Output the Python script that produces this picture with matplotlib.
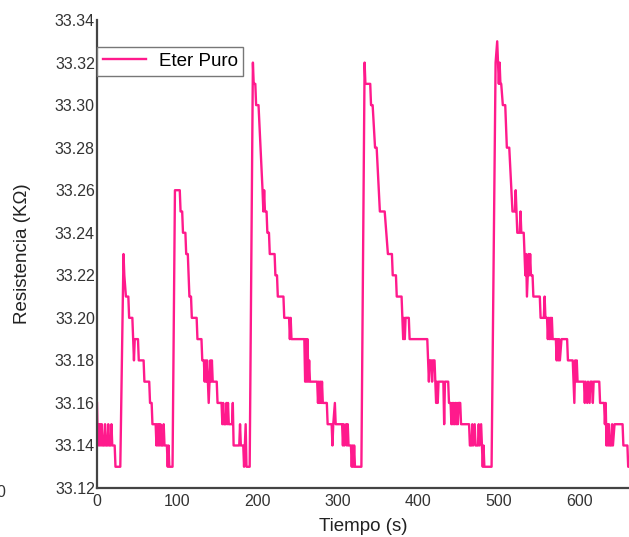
import matplotlib
matplotlib.use('Agg')
import matplotlib.pyplot as plt

plt.rcParams['font.family'] = ['Liberation Sans', 'DejaVu Sans']

# (tiempo s, resistencia kOhm), one list per exposure
ciclo1 = [(0, 33.16), (1, 33.14), (2, 33.15), (3, 33.14), (4, 33.15), (5, 33.14), (6, 33.15),
          (7, 33.14), (9, 33.14), (10, 33.15), (11, 33.14), (13, 33.14), (14, 33.15), (15, 33.14),
          (17, 33.14), (18, 33.15), (19, 33.14), (22, 33.14), (23, 33.13), (29, 33.13),
          (33, 33.23), (34, 33.22), (36, 33.21), (39, 33.21), (40, 33.20), (44, 33.20),
          (45, 33.19), (46, 33.18), (47, 33.19), (51, 33.19), (52, 33.18), (58, 33.18),
          (59, 33.17), (65, 33.17), (66, 33.16), (68, 33.16), (69, 33.15), (73, 33.15),
          (74, 33.14), (75, 33.15), (76, 33.14), (77, 33.15), (78, 33.14), (79, 33.15),
          (80, 33.14), (82, 33.14), (83, 33.15), (84, 33.14), (87, 33.14), (88, 33.13),
          (89, 33.14), (90, 33.13), (94, 33.13)]

ciclo2 = [(97, 33.26), (103, 33.26), (104, 33.25), (106, 33.25), (107, 33.24), (110, 33.24),
          (111, 33.23), (113, 33.23), (115, 33.21), (117, 33.21), (118, 33.20), (124, 33.20),
          (125, 33.19), (130, 33.19), (131, 33.18), (133, 33.18), (134, 33.17), (135, 33.18),
          (136, 33.17), (137, 33.18), (138, 33.17), (139, 33.16), (140, 33.17), (141, 33.18),
          (142, 33.17), (143, 33.18), (144, 33.17), (149, 33.17), (150, 33.16), (155, 33.16),
          (156, 33.15), (157, 33.16), (158, 33.15), (160, 33.15), (161, 33.16), (162, 33.15),
          (163, 33.16), (164, 33.15), (168, 33.15), (169, 33.16), (170, 33.14), (177, 33.14),
          (178, 33.15), (179, 33.14), (182, 33.14), (183, 33.13), (185, 33.15), (186, 33.13),
          (190, 33.13)]

ciclo3 = [(194, 33.32), (195, 33.31), (197, 33.31), (198, 33.30), (201, 33.30), (206, 33.26),
          (207, 33.25), (208, 33.26), (209, 33.25), (211, 33.25), (212, 33.24), (214, 33.24),
          (215, 33.23), (221, 33.23), (222, 33.22), (224, 33.22), (225, 33.21), (232, 33.21),
          (233, 33.20), (239, 33.20), (240, 33.19), (241, 33.20), (242, 33.19), (258, 33.19),
          (259, 33.17), (260, 33.19), (261, 33.17), (262, 33.19), (263, 33.17), (264, 33.18),
          (265, 33.17), (274, 33.17), (275, 33.16), (276, 33.17), (277, 33.16), (278, 33.17),
          (279, 33.16), (280, 33.17), (281, 33.16), (286, 33.16), (287, 33.15), (292, 33.15),
          (293, 33.14), (294, 33.15), (296, 33.16), (297, 33.15), (305, 33.15), (306, 33.14),
          (307, 33.15), (308, 33.14), (310, 33.15), (311, 33.14), (312, 33.15), (313, 33.14),
          (316, 33.14), (317, 33.13), (318, 33.14), (319, 33.13), (320, 33.14), (321, 33.13),
          (329, 33.13)]

ciclo4 = [(333, 33.32), (334, 33.31), (340, 33.31), (341, 33.30), (343, 33.30), (346, 33.28),
          (348, 33.28), (352, 33.25), (358, 33.25), (360, 33.24), (362, 33.23), (367, 33.23),
          (368, 33.22), (372, 33.22), (373, 33.21), (379, 33.21), (380, 33.20), (381, 33.19),
          (382, 33.20), (383, 33.19), (384, 33.20), (388, 33.20), (389, 33.19), (411, 33.19),
          (412, 33.18), (413, 33.17), (414, 33.18), (416, 33.18), (417, 33.17), (418, 33.18),
          (420, 33.18), (421, 33.17), (422, 33.16), (423, 33.17), (424, 33.16), (425, 33.17),
          (431, 33.17), (432, 33.15), (433, 33.17), (437, 33.17), (438, 33.16), (440, 33.16),
          (441, 33.15), (442, 33.16), (443, 33.15), (444, 33.16), (445, 33.15), (446, 33.16),
          (447, 33.15), (448, 33.16), (449, 33.15), (450, 33.16), (452, 33.16), (453, 33.15),
          (463, 33.15), (464, 33.14), (466, 33.14), (467, 33.15), (468, 33.14), (470, 33.15),
          (471, 33.14), (474, 33.14), (475, 33.15), (476, 33.14), (478, 33.15), (479, 33.14),
          (480, 33.13), (481, 33.14), (482, 33.13), (491, 33.13)]

ciclo5 = [(496, 33.32), (498, 33.33), (499, 33.32), (500, 33.31), (501, 33.32), (502, 33.31),
          (503, 33.31), (505, 33.30), (508, 33.30), (510, 33.28), (513, 33.28), (517, 33.25),
          (520, 33.25), (521, 33.26), (522, 33.25), (523, 33.24), (526, 33.24), (527, 33.25),
          (528, 33.24), (531, 33.24), (532, 33.23), (533, 33.22), (534, 33.23), (535, 33.21),
          (536, 33.22), (537, 33.23), (538, 33.22), (539, 33.23), (540, 33.22), (542, 33.22),
          (543, 33.21), (551, 33.21), (552, 33.20), (556, 33.20), (557, 33.21), (558, 33.20),
          (560, 33.20), (561, 33.19), (562, 33.20), (563, 33.19), (564, 33.20), (565, 33.19),
          (566, 33.20), (567, 33.19), (571, 33.19), (572, 33.18), (573, 33.19), (574, 33.18),
          (575, 33.19), (576, 33.18), (578, 33.19), (585, 33.19), (586, 33.18), (592, 33.18),
          (593, 33.17), (594, 33.16), (595, 33.18), (596, 33.17), (597, 33.18), (598, 33.17),
          (606, 33.17), (607, 33.16), (608, 33.17), (610, 33.16), (611, 33.17), (613, 33.16),
          (614, 33.17), (616, 33.17), (617, 33.16), (618, 33.17), (625, 33.17), (626, 33.16),
          (631, 33.16), (632, 33.15), (633, 33.16), (634, 33.14), (635, 33.15), (636, 33.14),
          (637, 33.15), (638, 33.14), (640, 33.14), (641, 33.15), (642, 33.14), (644, 33.15),
          (654, 33.15), (655, 33.14), (660, 33.14), (661, 33.13), (665, 33.13)]

yticks = [33.12, 33.14, 33.16, 33.18, 33.20, 33.22, 33.24, 33.26, 33.28, 33.30, 33.32, 33.34]
xticks = [0, 100, 200, 300, 400, 500, 600]

datos = ciclo1 + ciclo2 + ciclo3 + ciclo4 + ciclo5
tiempo = [p[0] for p in datos]
resist = [p[1] for p in datos]

fig = plt.figure(figsize=(6.29, 5.37), dpi=100)
ax = fig.add_axes([0.1542, 0.0912, 0.8458, 0.8715])

ax.plot(tiempo, resist, color='#ff1a8c', lw=1.7, label='Eter Puro')

ax.set_xlim(0, 662)
ax.set_ylim(33.12, 33.34)
ax.set_xticks(xticks)
ax.set_yticks(yticks)
ax.set_yticklabels(['%.2f' % v for v in yticks])

for s in ['top', 'right']:
    ax.spines[s].set_visible(False)
for s in ['left', 'bottom']:
    ax.spines[s].set_color('#444444')
    ax.spines[s].set_linewidth(1.6)

ax.tick_params(length=0, colors='#444444', labelsize=11.5, pad=1.5)
ax.tick_params(axis='x', pad=4)
for lab in ax.get_xticklabels() + ax.get_yticklabels():
    lab.set_color('#333333')

ax.set_xlabel('Tiempo (s)', fontsize=13.5, color='#222222', labelpad=7)
ax.set_ylabel('Resistencia (KΩ)', fontsize=13.5, color='#222222', labelpad=17)

leg = ax.legend(loc='upper left', bbox_to_anchor=(0.0, 0.942), borderaxespad=0,
                fontsize=13.5, fancybox=False, framealpha=1, handlelength=2.3,
                borderpad=0.3, handletextpad=0.7)
leg.get_frame().set_edgecolor('#777777')
leg.get_frame().set_linewidth(1.0)

# cropped label from a neighbouring panel
fig.text(-0.006, 0.075, '0', fontsize=11.5, color='#333333')

fig.savefig('out.png', dpi=100)
